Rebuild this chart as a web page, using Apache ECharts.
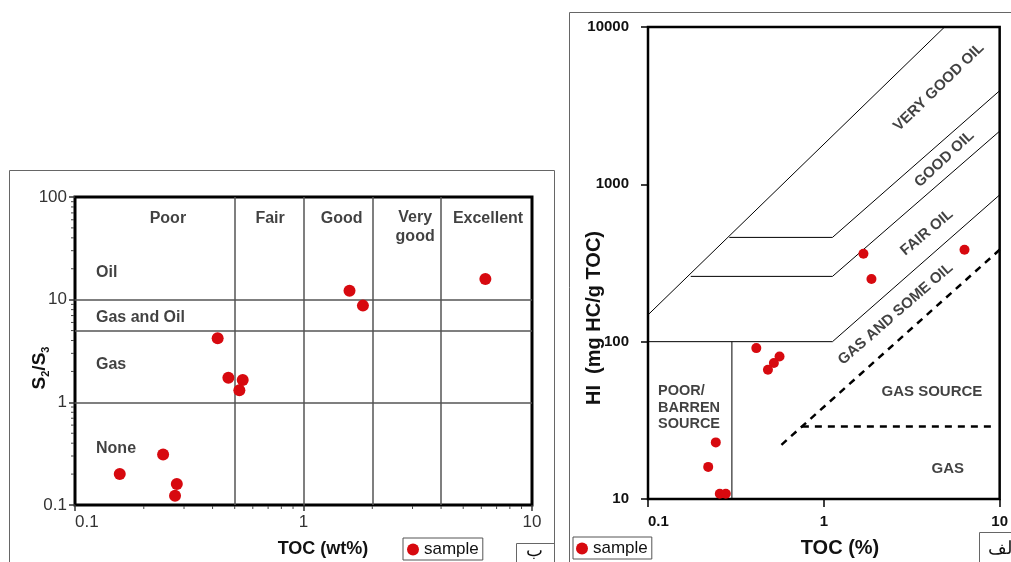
<!DOCTYPE html>
<html>
<head>
<meta charset="utf-8">
<script src="https://cdn.jsdelivr.net/npm/echarts@6/dist/echarts.min.js"></script>
<style>
  html, body { margin: 0; padding: 0; background: #fff; }
  #chart { width: 1011px; height: 562px; }
</style>
</head>
<body>
<div id="chart"></div>
<script>
const FONT = "'Liberation Sans', Arial, sans-serif";
const RED = '#d7090f';

// left plot: S2/S3 against TOC (wt%)
const leftToc = [0.157, 0.243, 0.279, 0.274, 0.469, 0.542, 0.524, 0.421, 1.59, 1.82, 6.25];
const leftS2S3 = [0.2, 0.31, 0.16, 0.123, 1.74, 1.65, 1.31, 4.2, 12.2, 8.75, 15.9];
const leftTocLimits = [0.5, 1, 2, 4];
const leftRatioLimits = [1, 5, 10];
const leftMinorX = [0.2, 0.3, 0.4, 0.5, 0.6, 0.7, 0.8, 0.9, 2, 3, 4, 5, 6, 7, 8, 9];
const leftMinorY = [0.2, 0.3, 0.4, 0.5, 0.6, 0.7, 0.8, 0.9, 2, 3, 4, 5, 6, 7, 8, 9,
  20, 30, 40, 50, 60, 70, 80, 90];
const leftZoneLabels = [
  [0.255, 61, 'Poor'], [0.714, 61, 'Fair'], [1.47, 61, 'Good'],
  [3.08, 51, 'Very\ngood'], [6.42, 61, 'Excellent'],
];
const leftTypeLabels = [
  [0.1236, 18.3, 'Oil'], [0.1236, 6.68, 'Gas and Oil'],
  [0.1236, 2.33, 'Gas'], [0.1236, 0.355, 'None'],
];

// right plot: HI against TOC (%)
const rightToc = [0.413, 0.56, 0.52, 0.481, 1.68, 1.866, 6.31, 0.243, 0.22, 0.256, 0.277];
const rightHI = [91, 80.5, 73.1, 66.3, 362, 250, 384, 22.9, 16, 10.8, 10.8];
const rightUpperLine = [[0.1, 148], [4.86, 10000]];
const rightVeryGoodLine = [[0.29, 460], [1.12, 460], [10, 3935]];
const rightGoodLine = [[0.175, 260], [1.12, 260], [10, 2178]];
const rightFairLine = [[0.1, 100], [1.12, 100], [10, 857]];
const rightPoorLine = [[0.3, 10], [0.3, 100]];
const rightGasDashA = [[0.574, 22.1], [10, 384]];
const rightGasDashB = [[0.75, 28.9], [9, 28.9]];
const rightLabels = [
  [4.51, 4150, 'VERY GOOD OIL', 44],
  [4.85, 1448, 'GOOD OIL', 43],
  [3.86, 494, 'FAIR OIL', 40],
  [2.56, 150, 'GAS AND SOME OIL', 41],
  [4.12, 48, 'GAS SOURCE', 0],
  [5.07, 15.6, 'GAS', 0],
];

const chart = echarts.init(document.getElementById('chart'));

function minorTicks(values, onX, len) {
  return {
    type: 'custom',
    xAxisIndex: 0,
    yAxisIndex: 0,
    silent: true,
    data: values.map((v) => (onX ? [v, 0.1] : [0.1, v])),
    renderItem(params, api) {
      const p = api.coord([api.value(0), api.value(1)]);
      return {
        type: 'line',
        shape: onX
          ? { x1: p[0], y1: p[1] + 1, x2: p[0], y2: p[1] + len }
          : { x1: p[0] - 1, y1: p[1], x2: p[0] - len, y2: p[1] },
        style: { stroke: '#444', lineWidth: 1 },
      };
    },
  };
}

function boundary(data, dashed) {
  return {
    type: 'line',
    xAxisIndex: 1,
    yAxisIndex: 1,
    data,
    symbol: 'none',
    silent: true,
    lineStyle: dashed
      ? { color: '#000', width: 2.5, type: [7, 6] }
      : { color: '#000', width: 1 },
  };
}

const labelBase = { show: true, fontFamily: FONT, fontWeight: 'bold', color: '#111' };

const option = {
  animation: false,
  grid: [
    { left: 75, top: 197, width: 457, height: 308, show: true, borderColor: '#000', borderWidth: 3 },
    { left: 648, top: 27, width: 353, height: 472, show: true, borderColor: '#000', borderWidth: 2.5 },
  ],
  xAxis: [
    {
      type: 'log', logBase: 10, min: 0.1, max: 10, gridIndex: 0,
      axisLine: { show: false },
      axisTick: { show: true, length: 6, lineStyle: { color: '#333', width: 1.5 } },
      splitLine: { show: false },
      axisLabel: { margin: 9, fontSize: 17, color: '#333', fontFamily: FONT, alignMinLabel: 'left', formatter: (v) => String(v) },
    },
    {
      type: 'log', logBase: 10, min: 0.1, max: 10, gridIndex: 1,
      axisLine: { show: false },
      axisTick: { show: true, length: 8, lineStyle: { color: '#000', width: 1.5 } },
      splitLine: { show: false },
      axisLabel: { margin: 15, fontSize: 15, fontWeight: 'bold', color: '#111', fontFamily: FONT, alignMinLabel: 'left', formatter: (v) => String(v) },
    },
  ],
  yAxis: [
    {
      type: 'log', logBase: 10, min: 0.1, max: 100, gridIndex: 0,
      axisLine: { show: false },
      axisTick: { show: true, length: 6, lineStyle: { color: '#333', width: 1.5 } },
      splitLine: { show: false },
      axisLabel: { margin: 8, fontSize: 17, color: '#333', fontFamily: FONT, formatter: (v) => String(v) },
    },
    {
      type: 'log', logBase: 10, min: 10, max: 10000, gridIndex: 1,
      axisLine: { show: false },
      axisTick: { show: true, length: 7, lineStyle: { color: '#000', width: 1.5 } },
      splitLine: { show: false },
      axisLabel: { margin: 19, fontSize: 15, fontWeight: 'bold', color: '#111', fontFamily: FONT, formatter: (v) => String(v) },
    },
  ],
  legend: [
    {
      data: ['sample'], left: 403, top: 538, icon: 'circle', itemWidth: 12, itemHeight: 12,
      padding: [3, 4, 2, 4], borderColor: '#555', borderWidth: 1, selectedMode: false,
      textStyle: { fontSize: 17, color: '#111', fontFamily: FONT },
    },
    {
      data: ['sample'], left: 573, top: 537, icon: 'circle', itemWidth: 12, itemHeight: 12,
      padding: [3, 4, 2, 3], borderColor: '#555', borderWidth: 1, selectedMode: false,
      textStyle: { fontSize: 17, color: '#111', fontFamily: FONT },
    },
  ],
  series: [
    {
      name: 'sample',
      type: 'scatter',
      xAxisIndex: 0,
      yAxisIndex: 0,
      symbolSize: 12,
      itemStyle: { color: RED, opacity: 1 },
      data: leftToc.map((t, i) => [t, leftS2S3[i]]),
      z: 5,
      markLine: {
        silent: true,
        symbol: ['none', 'none'],
        label: { show: false },
        lineStyle: { color: '#555', width: 1.5, type: 'solid' },
        data: leftTocLimits.map((v) => ({ xAxis: v }))
          .concat(leftRatioLimits.map((v) => ({ yAxis: v }))),
      },
    },
    minorTicks(leftMinorX, true, 4),
    minorTicks(leftMinorY, false, 4),
    {
      type: 'scatter',
      xAxisIndex: 0,
      yAxisIndex: 0,
      silent: true,
      symbolSize: 1,
      itemStyle: { color: 'transparent' },
      data: leftZoneLabels.map((d) => ({
        value: [d[0], d[1]],
        label: { ...labelBase, position: 'inside', formatter: d[2], fontSize: 16, lineHeight: 19, align: 'center' },
      })).concat(leftTypeLabels.map((d) => ({
        value: [d[0], d[1]],
        label: { ...labelBase, position: 'inside', formatter: d[2], fontSize: 16, align: 'left' },
      }))),
    },
    boundary(rightUpperLine),
    boundary(rightVeryGoodLine),
    boundary(rightGoodLine),
    boundary(rightFairLine),
    boundary(rightPoorLine),
    boundary(rightGasDashA, true),
    boundary(rightGasDashB, true),
    {
      name: 'sample',
      type: 'scatter',
      xAxisIndex: 1,
      yAxisIndex: 1,
      symbolSize: 10,
      itemStyle: { color: RED, opacity: 1 },
      data: rightToc.map((t, i) => [t, rightHI[i]]),
      z: 5,
    },
    {
      type: 'scatter',
      xAxisIndex: 1,
      yAxisIndex: 1,
      silent: true,
      symbolSize: 1,
      itemStyle: { color: 'transparent' },
      data: rightLabels.map((d) => ({
        value: [d[0], d[1]],
        label: { ...labelBase, position: 'inside', formatter: d[2], fontSize: 15, rotate: d[3] },
      })).concat([{
        value: [0.114, 38],
        label: { ...labelBase, position: 'inside', formatter: 'POOR/\nBARREN\nSOURCE', fontSize: 14.5, lineHeight: 16.5, align: 'left' },
      }]),
    },
  ],
  graphic: [
    { type: 'rect', shape: { x: 9.5, y: 170.5, width: 545, height: 420 }, style: { fill: 'none', stroke: '#666', lineWidth: 1 }, silent: true },
    { type: 'rect', shape: { x: 569.5, y: 12.5, width: 500, height: 600 }, style: { fill: 'none', stroke: '#666', lineWidth: 1 }, silent: true },
    { type: 'rect', shape: { x: 516.5, y: 543.5, width: 38, height: 30 }, style: { fill: 'none', stroke: '#666', lineWidth: 1 }, silent: true },
    { type: 'rect', shape: { x: 979.5, y: 532.5, width: 60, height: 40 }, style: { fill: 'none', stroke: '#666', lineWidth: 1 }, silent: true },
    { type: 'text', x: 534, y: 551, style: { text: 'ب', font: '18px ' + FONT, fill: '#111', align: 'center', verticalAlign: 'middle' } },
    { type: 'text', x: 988, y: 549, style: { text: 'الف', font: '18px ' + FONT, fill: '#111', align: 'left', verticalAlign: 'middle' } },
    { type: 'text', x: 323, y: 549, style: { text: 'TOC (wt%)', font: 'bold 18px ' + FONT, fill: '#111', align: 'center', verticalAlign: 'middle' } },
    { type: 'text', x: 840, y: 548, style: { text: 'TOC (%)', font: 'bold 20px ' + FONT, fill: '#111', align: 'center', verticalAlign: 'middle' } },
    {
      type: 'text', x: 594, y: 318, rotation: Math.PI / 2,
      style: { text: 'HI  (mg HC/g TOC)', font: 'bold 20px ' + FONT, fill: '#111', align: 'center', verticalAlign: 'middle' },
    },
    {
      type: 'text', x: 40, y: 368, rotation: Math.PI / 2,
      style: {
        text: '{a|S}{b|2}{a|/S}{b|3}',
        align: 'center',
        verticalAlign: 'middle',
        rich: {
          a: { fontFamily: FONT, fontWeight: 'bold', fontSize: 19, lineHeight: 22, fill: '#111' },
          b: { fontFamily: FONT, fontWeight: 'bold', fontSize: 11, lineHeight: 11, verticalAlign: 'bottom', fill: '#111' },
        },
      },
    },
  ],
};

chart.setOption(option);
</script>
</body>
</html>
